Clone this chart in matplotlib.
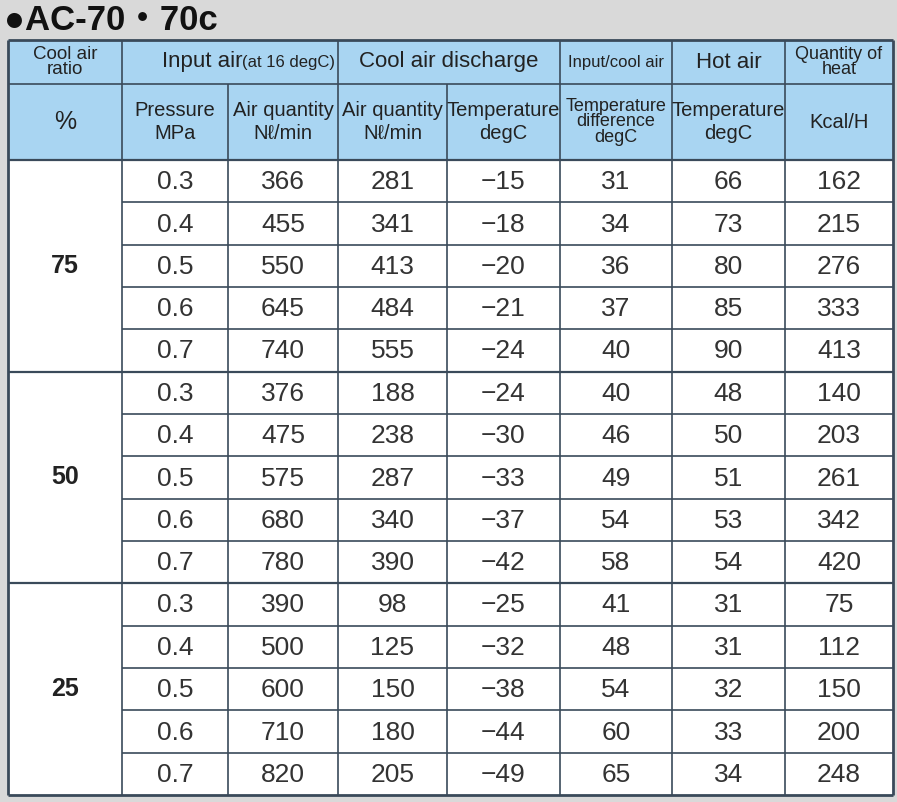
import matplotlib
matplotlib.use("Agg")
import matplotlib.pyplot as plt
from matplotlib.patches import Rectangle

title = "●AC-70・70c"
ratios = ["75", "50", "25"]
pressure = ["0.3", "0.4", "0.5", "0.6", "0.7"]
input_air = [[366, 455, 550, 645, 740], [376, 475, 575, 680, 780], [390, 500, 600, 710, 820]]
cool_air = [[281, 341, 413, 484, 555], [188, 238, 287, 340, 390], [98, 125, 150, 180, 205]]
cool_temp = [[-15, -18, -20, -21, -24], [-24, -30, -33, -37, -42], [-25, -32, -38, -44, -49]]
temp_diff = [[31, 34, 36, 37, 40], [40, 46, 49, 54, 58], [41, 48, 54, 60, 65]]
hot_temp = [[66, 73, 80, 85, 90], [48, 50, 51, 53, 54], [31, 31, 32, 33, 34]]
heat = [[162, 215, 276, 333, 413], [140, 203, 261, 342, 420], [75, 112, 150, 200, 248]]

W, H = 897, 802
fig = plt.figure(figsize=(W/100, H/100), dpi=100)
fig.patch.set_facecolor("#d9d9d9")
ax = fig.add_axes([0, 0, 1, 1])
ax.set_xlim(0, W); ax.set_ylim(H, 0); ax.axis("off")

xs = [8, 122, 228, 338, 447, 560, 672, 785, 893]
y0, y1, y2 = 40, 84, 160
ybot = 795
rh = (ybot - y2) / 15
lc = "#3a4a5a"
blue = "#a9d5f2"
ff = ["Liberation Sans", "Noto Sans CJK JP", "DejaVu Sans"]

ax.add_patch(Rectangle((xs[0], y0), xs[-1]-xs[0], y2-y0, fc=blue, ec="none"))
ax.add_patch(Rectangle((xs[0], y2), xs[-1]-xs[0], ybot-y2, fc="white", ec="none"))

ax.text(4, 20, title, fontsize=25, fontweight="bold", va="center", ha="left", color="#111",
        family=["Liberation Sans", "Noto Sans CJK JP"])

def cx(i, j=None):
    j = i + 1 if j is None else j
    return (xs[i] + xs[j]) / 2

tc = "#222"
ym1 = (y0+y1)/2
ax.text(cx(0), ym1, "Cool air\nratio", fontsize=13.5, ha="center", va="center", linespacing=0.8, color=tc, family=ff)
ax.text(cx(1, 3)+12, ym1, "Input air", fontsize=16, ha="right", va="center", color=tc, family=ff)
ax.text(cx(1, 3)+12, ym1, "(at 16 degC)", fontsize=12, ha="left", va="center", color=tc, family=ff)
ax.text(cx(3, 5), ym1, "Cool air discharge", fontsize=16, ha="center", va="center", color=tc, family=ff)
ax.text(cx(5), ym1, "Input/cool air", fontsize=12, ha="center", va="center", color=tc, family=ff)
ax.text(cx(6), ym1, "Hot air", fontsize=16, ha="center", va="center", color=tc, family=ff)
ax.text(cx(7), ym1, "Quantity of\nheat", fontsize=13, ha="center", va="center", linespacing=0.8, color=tc, family=ff)
ym = (y1+y2)/2
ax.text(cx(0), ym, "%", fontsize=18, ha="center", va="center", color=tc, family=ff)
sub = ["Pressure\nMPa", "Air quantity\nNℓ/min", "Air quantity\nNℓ/min", "Temperature\ndegC",
       "Temperature\ndifference\ndegC", "Temperature\ndegC", "Kcal/H"]
for k, s in enumerate(sub):
    n = s.count("\n")
    fs = 13 if n == 2 else 14.5
    ax.text(cx(k+1), ym, s, fontsize=fs, ha="center", va="center",
            linespacing=0.85 if n == 2 else 1.3, color=tc, family=ff)

for g in range(3):
    gy = y2 + g*5*rh
    ax.text(cx(0), gy + 2.5*rh, ratios[g], fontsize=18, fontweight="bold", ha="center", va="center", color=tc, family=ff)
    for r in range(5):
        yc = gy + (r+0.5)*rh + 1
        vals = [pressure[r], str(input_air[g][r]), str(cool_air[g][r]),
                str(cool_temp[g][r]).replace("-", "−"), str(temp_diff[g][r]),
                str(hot_temp[g][r]), str(heat[g][r])]
        for k, v in enumerate(vals):
            ax.text(cx(k+1), yc, v, fontsize=19, ha="center", va="center", color="#333", family=ff)

def hl(y, xa, xb, lw=1.2):
    ax.plot([xa, xb], [y, y], color=lc, lw=lw, solid_capstyle="butt")
def vl(x, ya, yb, lw=1.2):
    ax.plot([x, x], [ya, yb], color=lc, lw=lw, solid_capstyle="butt")

hl(y0, xs[0], xs[-1], 2); hl(ybot, xs[0], xs[-1], 2)
hl(y1, xs[0], xs[-1]); hl(y2, xs[0], xs[-1], 1.6)
for g in range(3):
    for r in range(1, 5):
        hl(y2 + (g*5+r)*rh, xs[1], xs[-1])
    if g > 0:
        hl(y2 + g*5*rh, xs[0], xs[-1], 1.6)
vl(xs[0], y0, ybot, 2); vl(xs[-1], y0, ybot, 2)
for i in range(1, 8):
    ya = y1 if i in (2, 4) else y0
    vl(xs[i], ya, ybot)

fig.savefig("out.png", dpi=100, facecolor=fig.get_facecolor())
